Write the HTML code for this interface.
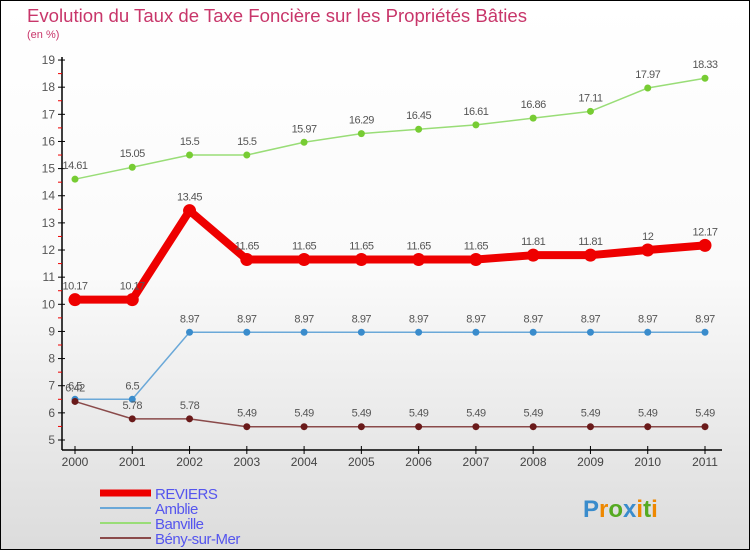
<!DOCTYPE html>
<html><head><meta charset="utf-8"><style>
html,body{margin:0;padding:0}
body{width:750px;height:550px;overflow:hidden;font-family:"Liberation Sans","DejaVu Sans",sans-serif}
#c{position:absolute;left:0;top:0;width:748px;height:548px;border:1px solid #000;background:linear-gradient(#fff,#fafafa 50%,#dcdcdc)}
</style></head><body>
<div id="c">
<svg id="s" width="750" height="550" style="position:absolute;left:-1px;top:-1px"></svg>
</div>
<script>
const years=[2000,2001,2002,2003,2004,2005,2006,2007,2008,2009,2010,2011];
const reviers=[10.17,10.17,13.45,11.65,11.65,11.65,11.65,11.65,11.81,11.81,12,12.17];
const amblie=[6.5,6.5,8.97,8.97,8.97,8.97,8.97,8.97,8.97,8.97,8.97,8.97];
const banville=[14.61,15.05,15.5,15.5,15.97,16.29,16.45,16.61,16.86,17.11,17.97,18.33];
const beny=[6.42,5.78,5.78,5.49,5.49,5.49,5.49,5.49,5.49,5.49,5.49,5.49];
const yTicks=[5,6,7,8,9,10,11,12,13,14,15,16,17,18,19];
const s=document.getElementById('s');const NS='http://www.w3.org/2000/svg';
function X(i){return 75+i*(630/11);}
function Y(v){return 440-(v-5)*27.14;}
function el(t,a,p){const e=document.createElementNS(NS,t);for(const k in a)e.setAttribute(k,a[k]);(p||s).appendChild(e);return e;}
function tx(x,y,str,a){const e=el('text',Object.assign({x:x,y:y},a));e.textContent=str;return e;}
let t=tx(27,22,'Evolution du Taux de Taxe Foncière sur les Propriétés Bâties',{fill:'#c8366a','font-size':18,textLength:500,lengthAdjust:'spacingAndGlyphs'});

t=tx(27,38,'(en %)',{fill:'#c8366a','font-size':11});

let a=el('line',{x1:62,y1:57,x2:62,y2:450,stroke:'#000','stroke-width':1.5});

a=el('line',{x1:62,y1:450,x2:722,y2:450,stroke:'#000','stroke-width':1.5});

yTicks.forEach(v=>{el('line',{x1:58,y1:Y(v),x2:65,y2:Y(v),stroke:'#000'});
 if(v<19)el('line',{x1:58,y1:Y(v+0.5),x2:62,y2:Y(v+0.5),stroke:'#e00'});
 const l=tx(55,Y(v)+4,v,{fill:'#555','font-size':12,'text-anchor':'end'});
 });
years.forEach((y,i)=>{el('line',{x1:X(i),y1:446,x2:X(i),y2:454,stroke:'#000'});
 const l=tx(X(i),466,y,{fill:'#444','font-size':12,'text-anchor':'middle'});
 });
function series(vals,color,w,r,ptc,name){
 const g=el('g',{});
 el('polyline',{points:vals.map((v,i)=>X(i)+','+Y(v)).join(' '),fill:'none',stroke:color,'stroke-width':w,'stroke-linejoin':'round'},g);
 vals.forEach((v,i)=>{const c=el('circle',{cx:X(i),cy:Y(v),r:r,fill:ptc},g);
  
  tx(X(i),Y(v)-10,v,{fill:'#555','font-size':11,'text-anchor':'middle','letter-spacing':'-0.5'},g);});
}
series(banville,'#99dd77',1.5,3.5,'#77cc33','banville');
series(amblie,'#6aa8d8',1.5,3.5,'#3a8ccc','amblie');
series(beny,'#8a4a4a',1.5,3.5,'#6a1a1a','beny-sur-mer');
series(reviers,'#ee0000',8,6.5,'#ee0000','reviers');
const leg=[['REVIERS','#ee0000',7],['Amblie','#6aa8d8',2],['Banville','#99dd77',2],['Bény-sur-Mer','#8a4a4a',2]];
leg.forEach((L,i)=>{const g=el('g',{});
 const y=493+i*15;el('line',{x1:100,y1:y,x2:151,y2:y,stroke:L[1],'stroke-width':L[2]},g);
 tx(155,y+6,L[0],{fill:'#5555ee','font-size':15,'letter-spacing':'-0.5'},g);});
const p=tx(583,517,'',{'font-size':24,'font-weight':'bold'});

[['P','#3a8ccc'],['r','#ee8800'],['o','#55aa22'],['x','#3a8ccc'],['i','#ee8800'],['t','#55aa22'],['i','#ee8800']].forEach(c=>{const e=el('tspan',{fill:c[1]},p);e.textContent=c[0];});
</script>
</body></html>
